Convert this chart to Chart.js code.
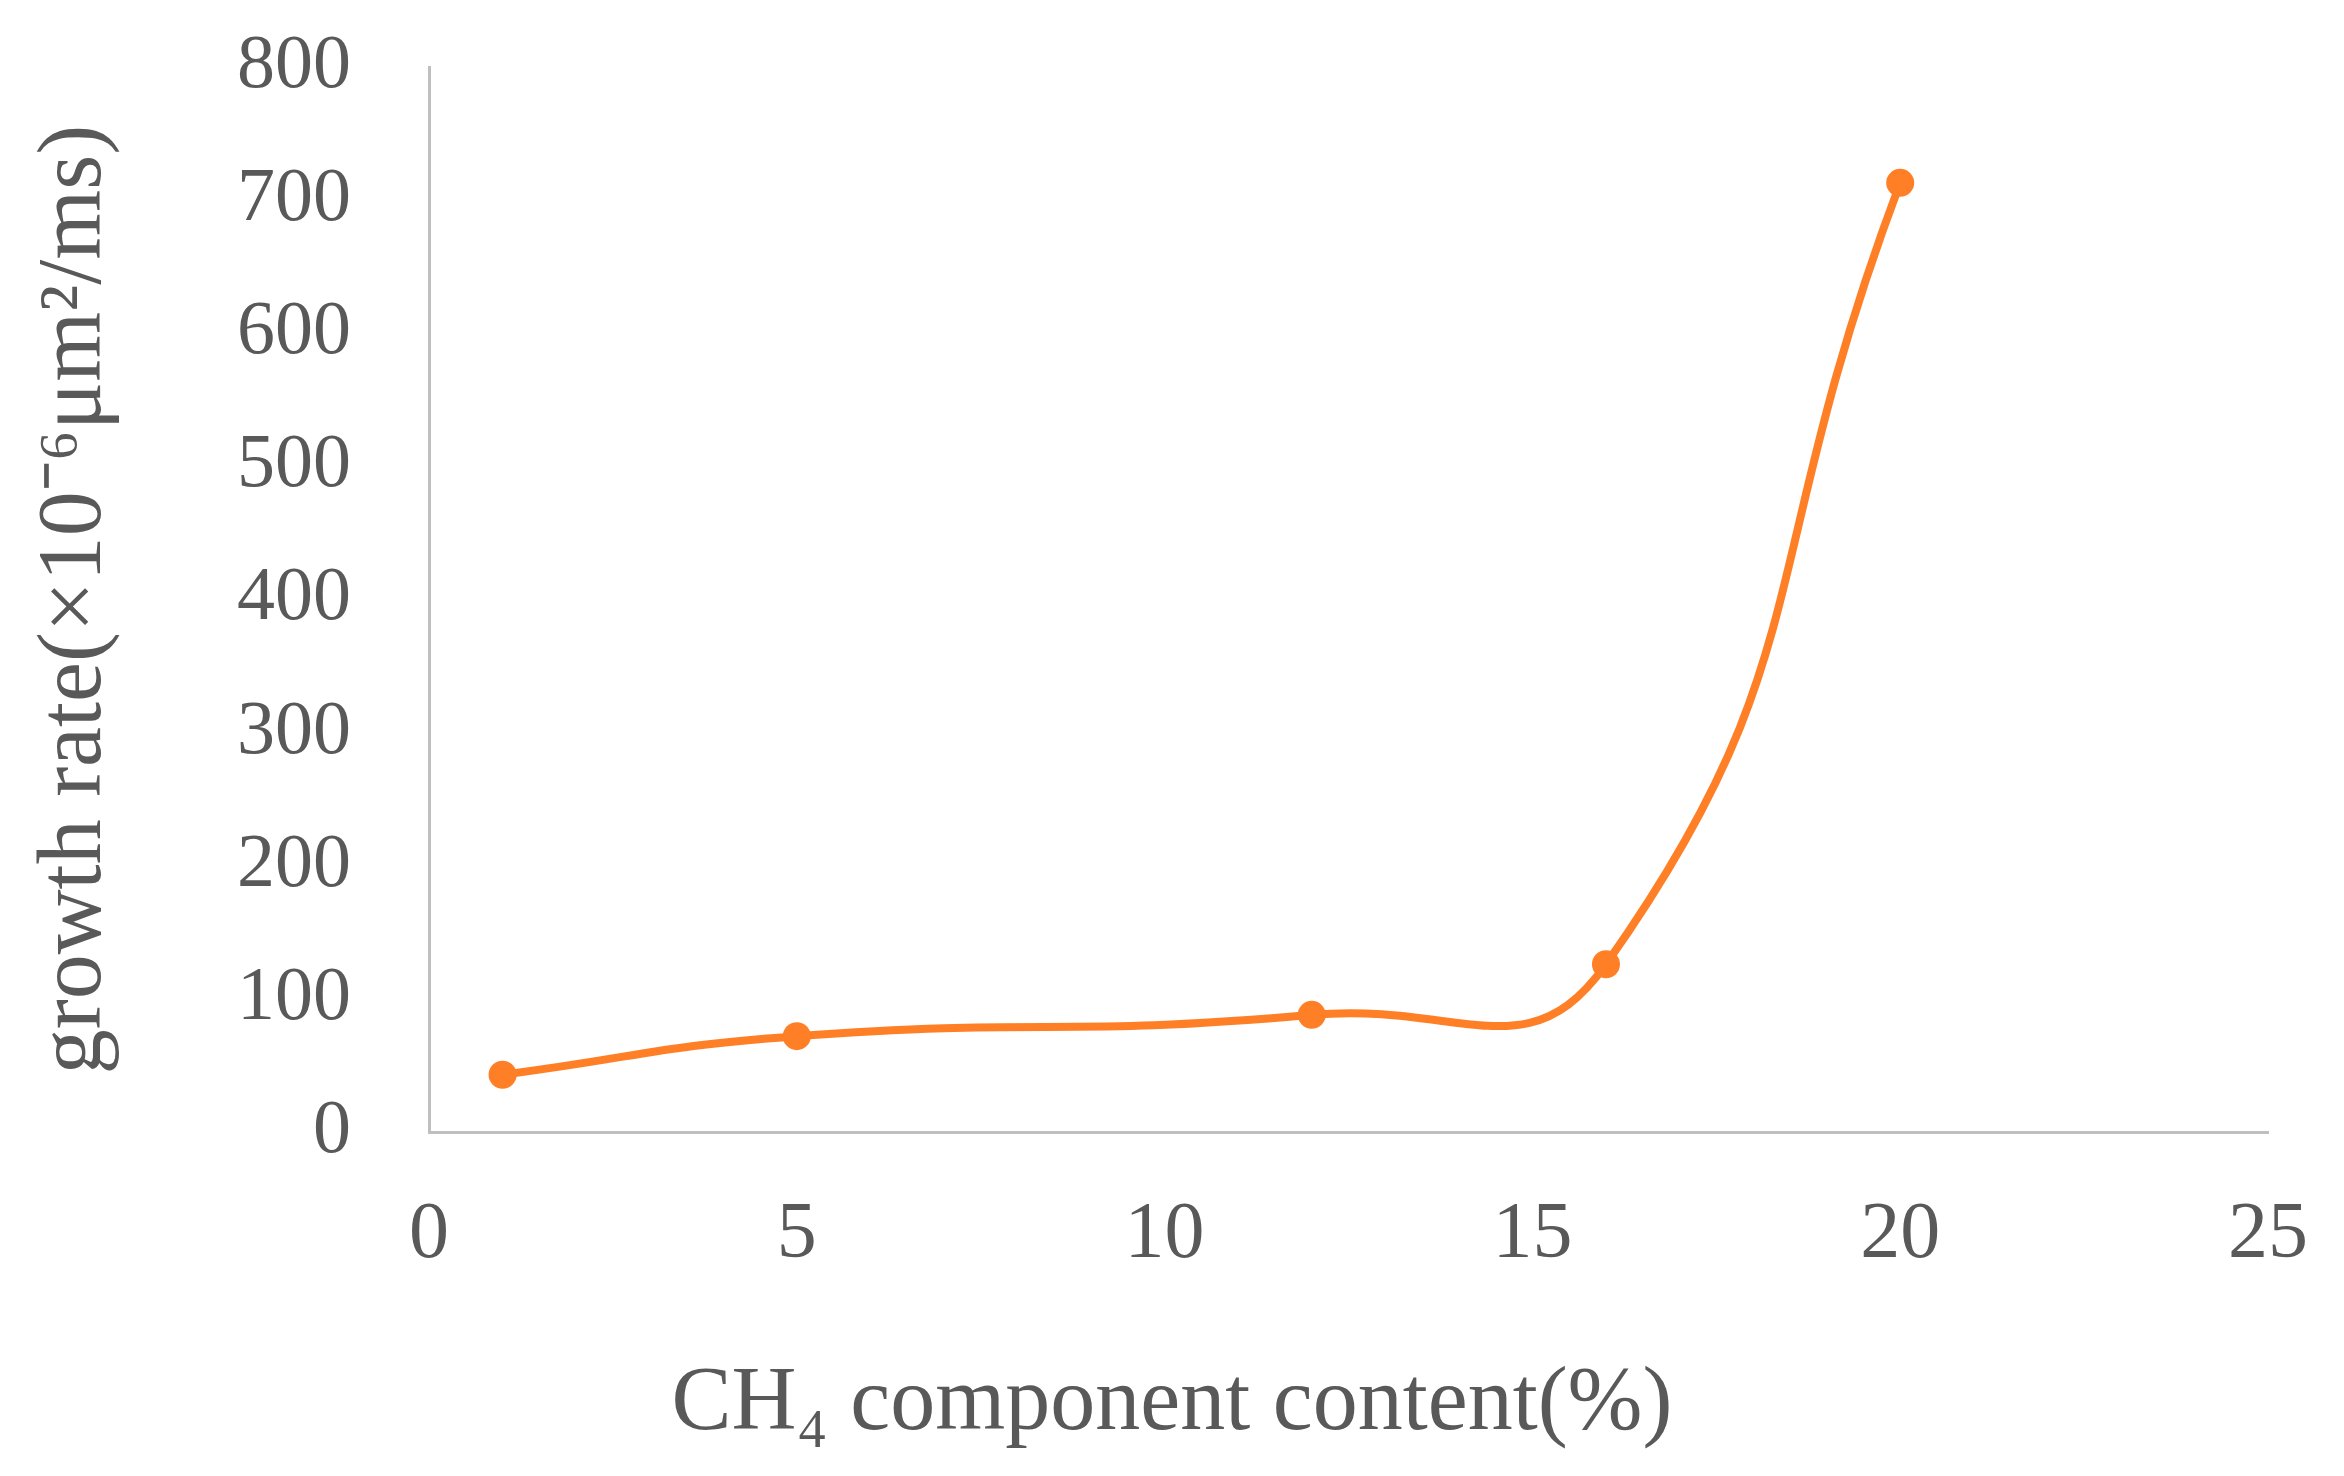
<!DOCTYPE html>
<html>
<head>
<meta charset="utf-8">
<script src="https://cdn.jsdelivr.net/npm/chart.js@4.4.1/dist/chart.umd.min.js"></script>
<style>
  html, body { margin: 0; padding: 0; background: #fff; }
  #wrap { width: 2344px; height: 1476px; }
</style>
</head>
<body>
<div id="wrap"><canvas id="chart" width="2344" height="1476"></canvas></div>
<script>
// CH4 content (%) vs growth rate
const ch4Content = [1, 5, 12, 16, 20];
const growthRate = [43, 72, 88, 126, 713];
const xTicks = [0, 5, 10, 15, 20, 25];
const yTicks = [0, 100, 200, 300, 400, 500, 600, 700, 800];

const ORANGE = '#FF7F27';
const TEXT = '#595959';
const AXIS = '#BFBFBF';
const SERIF = '"Liberation Serif", "Times New Roman", serif';

new Chart(document.getElementById('chart'), {
  type: 'line',
  data: {
    datasets: [{
      data: ch4Content.map((x, i) => ({ x, y: growthRate[i] })),
      borderColor: ORANGE,
      backgroundColor: ORANGE,
      borderWidth: 8,
      pointRadius: 14,
      pointBorderWidth: 0,
      tension: 0.5,
      fill: false,
    }],
  },
  options: {
    responsive: false, animation: false,
    layout: { padding: { top: 67, right: 0, left: 0, bottom: 0 } },
    plugins: {
      legend: { display: false }, tooltip: { enabled: false },
      title: {
        display: true, position: 'bottom', align: 'center',
        text: 'CH\u2084 component content(%)',
        color: TEXT,
        font: { family: SERIF, size: 90, weight: 'normal' },
        padding: { top: 0, bottom: 17 },
      },
    },
    scales: {
      x: {
        type: 'linear', min: 0, max: 25,
        afterBuildTicks: s => { s.ticks = xTicks.map(v => ({ value: v })); },
        afterFit: s => { s.height = 219; },
        // tick marks stay hidden; tickLength only spaces the labels
        grid: { display: false, drawTicks: true, tickLength: 20 },
        border: { display: true, color: AXIS, width: 3 },
        ticks: { color: TEXT, padding: 36, font: { family: SERIF, size: 80 } },
      },
      y: {
        min: 0, max: 800,
        afterBuildTicks: s => { s.ticks = yTicks.map(v => ({ value: v })); },
        afterFit: s => { s.width = 429; },
        grid: { display: false, drawTicks: true, tickLength: 70 },
        border: { display: true, color: AXIS, width: 3 },
        ticks: { color: TEXT, padding: 8, font: { family: SERIF, size: 76 } },
        title: {
          display: true,
          text: 'growth rate(\u00D710\u207B\u2076\u03BCm\u00B2/ms)',
          color: TEXT,
          font: { family: SERIF, size: 90 },
          padding: { top: 22, bottom: 0 },
        },
      },
    },
  },
});
</script>
</body>
</html>
